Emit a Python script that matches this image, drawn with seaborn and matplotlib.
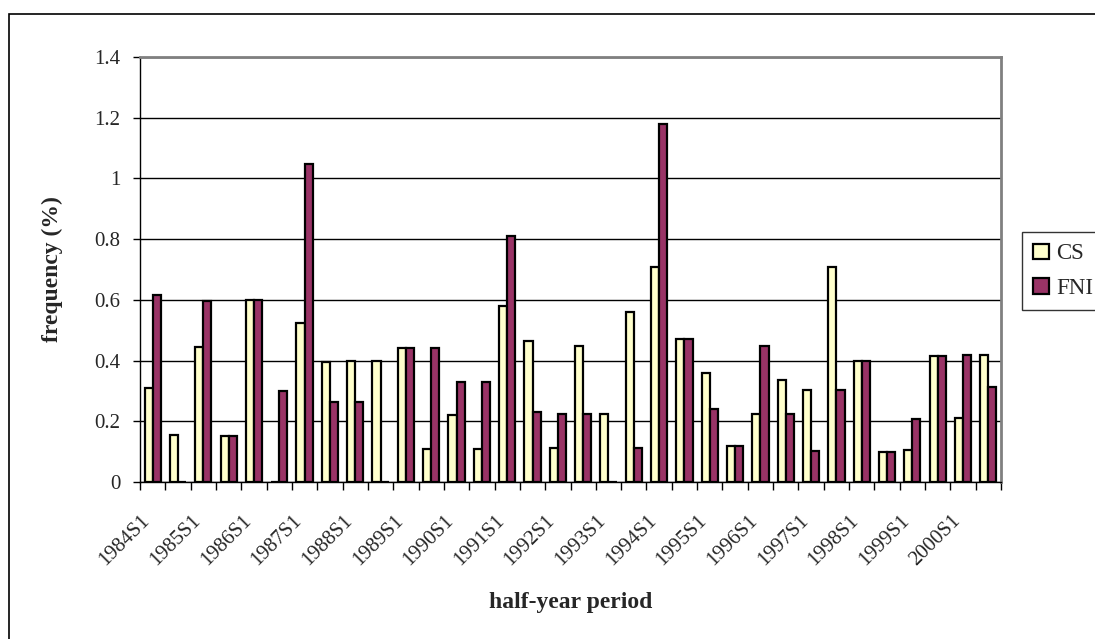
import matplotlib
matplotlib.use("Agg")
import matplotlib.pyplot as plt
import matplotlib.transforms as mtransforms
from matplotlib.patches import Rectangle
from matplotlib.ticker import FixedLocator, NullFormatter
import seaborn as sns
import pandas as pd
import numpy as np

# Half-year periods 1984S1 .. 2000S2
periods = [f"{y}S{h}" for y in range(1984, 2001) for h in (1, 2)]

cs_values = [0.31, 0.155, 0.445, 0.15, 0.6, 0.0, 0.525, 0.395, 0.397, 0.397,
             0.441, 0.11, 0.22, 0.11, 0.58, 0.465, 0.113, 0.448, 0.224, 0.56,
             0.707, 0.471, 0.359, 0.12, 0.224, 0.337, 0.304, 0.709, 0.397, 0.099,
             0.105, 0.416, 0.211, 0.418]
fni_values = [0.617, 0.0, 0.595, 0.15, 0.6, 0.3, 1.049, 0.264, 0.265, 0.0,
              0.441, 0.441, 0.328, 0.328, 0.812, 0.232, 0.224, 0.224, 0.0, 0.113,
              1.179, 0.471, 0.24, 0.12, 0.449, 0.224, 0.101, 0.304, 0.397, 0.099,
              0.209, 0.416, 0.418, 0.313]

series_names = ["CS", "FNI"]
series_colors = ["#FFFFCC", "#993366"]
y_ticks = [0, 0.2, 0.4, 0.6, 0.8, 1.0, 1.2, 1.4]
y_tick_labels = ["0", "0.2", "0.4", "0.6", "0.8", "1", "1.2", "1.4"]

df = pd.DataFrame({
    "period": periods * 2,
    "series": [series_names[0]] * len(periods) + [series_names[1]] * len(periods),
    "frequency": cs_values + fni_values,
})

sns.set_theme(style="white")
plt.rcParams["font.family"] = ["Liberation Serif", "DejaVu Serif"]

W, H = 1095, 639
fig = plt.figure(figsize=(W / 100, H / 100), dpi=100)
ax = fig.add_axes([140 / W, 1 - 482 / H, (1001 - 140) / W, (482 - 57) / H])

sns.barplot(data=df, x="period", y="frequency", hue="series", order=periods,
            hue_order=series_names, palette=series_colors, width=0.64, gap=0,
            edgecolor="black", linewidth=1.6, saturation=1, errorbar=None, ax=ax,
            zorder=3)

ax.set_xlim(-0.5, len(periods) - 0.5)
ax.set_ylim(0, 1.4)

# y axis
ax.set_yticks(y_ticks)
ax.set_yticklabels(y_tick_labels)
ax.yaxis.grid(True, color="black", linewidth=1.0, zorder=0)
ax.set_axisbelow(True)
ax.tick_params(axis="y", direction="out", length=5, width=1, color="black",
               labelsize=15, pad=9, left=True)

# x axis: labels on every other period, ticks on category boundaries
label_pos = list(range(0, len(periods), 2))
ax.set_xticks(label_pos)
ax.set_xticklabels([periods[i] for i in label_pos], rotation=45, ha="right",
                   rotation_mode="anchor", va="center")
ax.tick_params(axis="x", which="major", length=0, labelsize=15, pad=26)
shift = mtransforms.ScaledTranslation(-4 / 72, 0, fig.dpi_scale_trans)
for lbl in ax.get_xticklabels():
    lbl.set_transform(lbl.get_transform() + shift)
ax.xaxis.set_minor_locator(FixedLocator(np.arange(-0.5, len(periods), 1)))
ax.xaxis.set_minor_formatter(NullFormatter())
ax.tick_params(axis="x", which="minor", direction="out", length=5.5, width=1,
               color="black", bottom=True)

for side in ("left", "bottom"):
    ax.spines[side].set_color("black")
    ax.spines[side].set_linewidth(1.0)
for side in ("top", "right"):
    ax.spines[side].set_color("#808080")
    ax.spines[side].set_linewidth(2.0)

ax.set_xlabel("half-year period", fontsize=17, fontweight="bold")
ax.set_ylabel("frequency (%)", fontsize=17, fontweight="bold")
ax.xaxis.set_label_coords(0.5, -(592 - 482) / (482 - 57))
ax.yaxis.set_label_coords((63 - 140) / (1001 - 140), 0.5)

# legend to the right of the plot area
handles, labels = ax.get_legend_handles_labels()
if ax.legend_:
    ax.legend_.remove()
leg = fig.legend(handles, labels, loc="upper left",
                 bbox_to_anchor=(1022 / W, 1 - 232 / H), fontsize=16.5,
                 frameon=True, fancybox=False, edgecolor="black",
                 handlelength=0.68, handleheight=0.68, handletextpad=0.3,
                 borderpad=0.5, labelspacing=0.58, borderaxespad=0)
leg.get_frame().set_linewidth(1.0)
for h in leg.legend_handles:
    h.set_edgecolor("black")
    h.set_linewidth(1.6)

# chart area border
fig.add_artist(Rectangle((9 / W, -0.1), 1.2, 1 - 14 / H + 0.1,
                         transform=fig.transFigure, fill=False,
                         edgecolor="black", linewidth=1.2, clip_on=False))

fig.savefig("out.png", dpi=100)
